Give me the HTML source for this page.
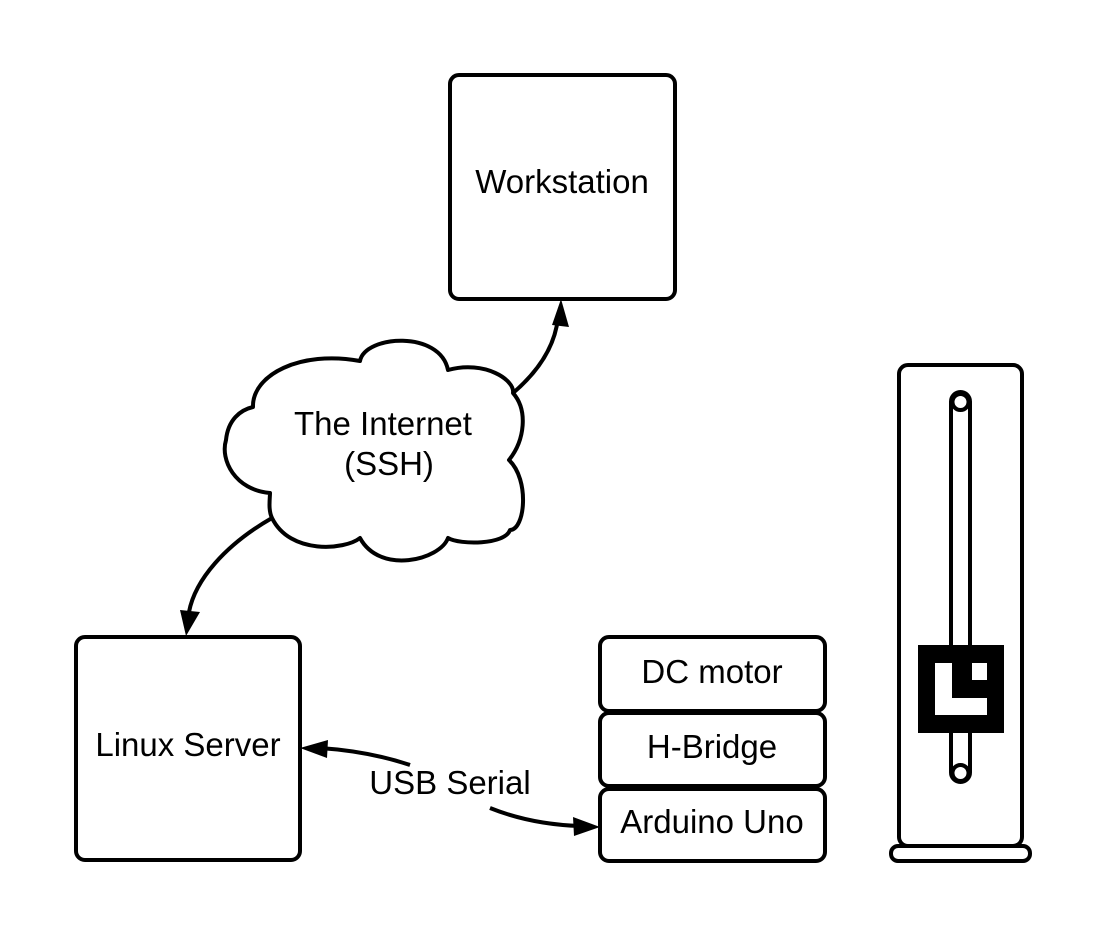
<!DOCTYPE html>
<html><head><meta charset="utf-8"><style>
html,body{margin:0;padding:0;background:#fff;}
svg{display:block;}
text{font-family:"Liberation Sans",Arial,sans-serif;font-size:33px;fill:#000;text-anchor:middle;}
</style></head><body>
<svg width="1106" height="938" viewBox="0 0 1106 938" xmlns="http://www.w3.org/2000/svg">
<g fill="none" stroke="#000" stroke-width="4" stroke-linejoin="round">
<rect x="450" y="75" width="225" height="224" rx="9"/>
<rect x="76" y="637" width="224" height="223" rx="9"/>
<rect x="600" y="637" width="225" height="74" rx="9"/>
<rect x="600" y="713" width="225" height="73" rx="9"/>
<rect x="600" y="789" width="225" height="72" rx="9"/>
<path fill="#fff" d="M253,407 C252,375 300,350 360,361 C365,335 440,330 448,370 C485,360 515,380 513,393 C528,410 525,440 509,460 C530,480 525,530 510,530 C505,545 460,545 448,538 C440,560 380,575 360,538 C345,550 290,555 272,518 C268,510 270,498 270,493 C235,490 220,460 226,440 C228,420 240,410 253,407 Z"/>
<path d="M513,393 C540,370 555,345 558,318"/>
<path d="M272,518 C225,545 195,580 189,612"/>
<path d="M410,765 C380,755 350,750 320,748"/>
<path d="M490,808 C520,820 550,825 580,826"/>
<rect x="899" y="365" width="123" height="481" rx="9"/>
<rect x="891" y="846" width="139" height="15" rx="7"/>
<rect x="951" y="392" width="19" height="390" rx="9.5"/>
<circle cx="960.5" cy="402" r="8"/>
<circle cx="960.5" cy="773" r="8"/>
</g>
<g fill="#000">
<polygon points="561,299 552,325 569,327"/>
<polygon points="186,636 180,610 200,612"/>
<polygon points="300,748 328,740 327,758"/>
<polygon points="600,827 573,817 574,836"/>
<rect x="918" y="645" width="86" height="88"/>
</g>
<g fill="#fff">
<rect x="935" y="663" width="17" height="52"/>
<rect x="935" y="698" width="52" height="17"/>
<rect x="972" y="663" width="15" height="17"/>
</g>
<text x="562" y="193">Workstation</text>
<text x="188" y="756">Linux Server</text>
<text x="383" y="435">The Internet</text>
<text x="389" y="475">(SSH)</text>
<text x="450" y="794">USB Serial</text>
<text x="712" y="683">DC motor</text>
<text x="712" y="758">H-Bridge</text>
<text x="712" y="833">Arduino Uno</text>
</svg>
</body></html>
